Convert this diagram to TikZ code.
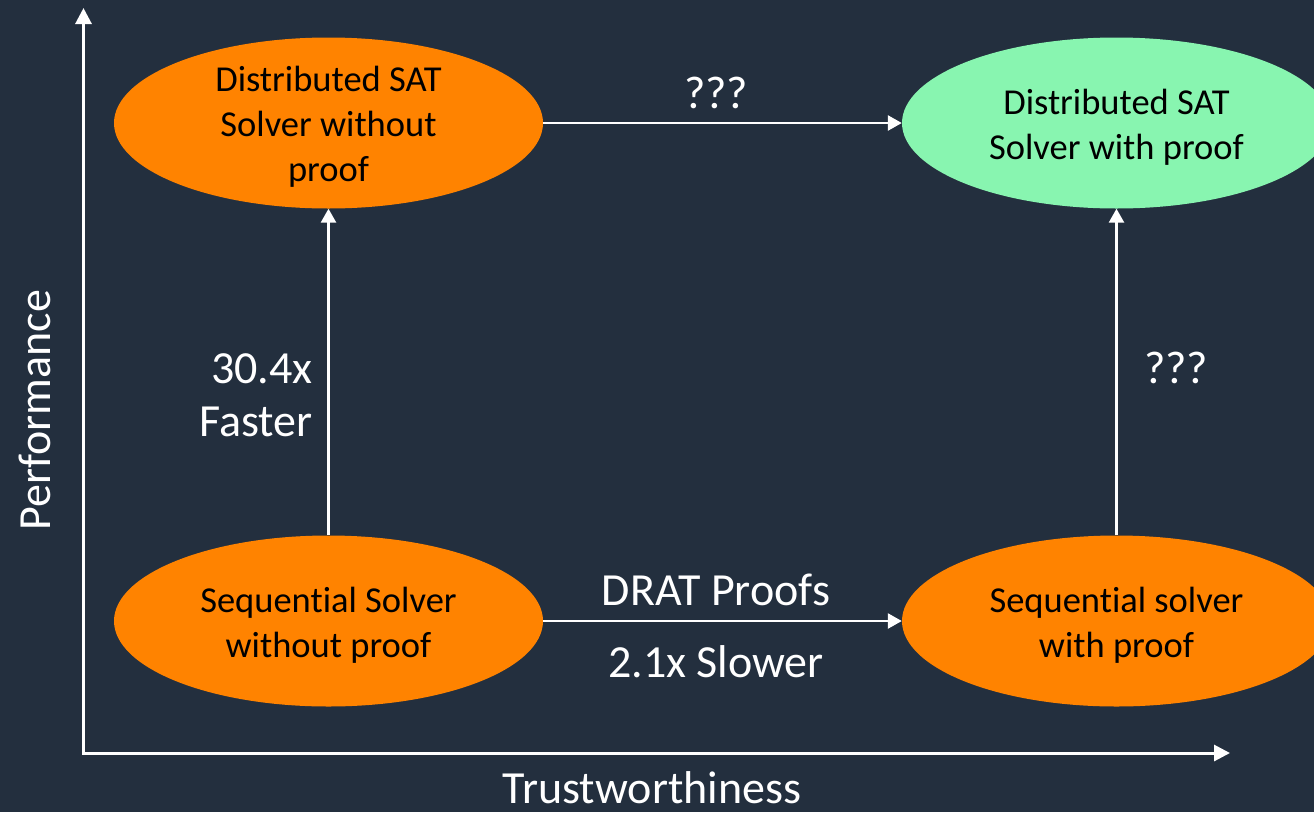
\documentclass[tikz,border=0pt]{standalone}
\usepackage{fontspec}
\setmainfont{Carlito}[RawFeature=-liga]
\usetikzlibrary{shapes.geometric,arrows.meta}
\definecolor{bgdark}{HTML}{232F3E}
\definecolor{solverorange}{HTML}{FF8300}
\definecolor{solvergreen}{HTML}{88F5B0}
\tikzset{
  solver/.style={ellipse, inner sep=0pt, minimum width=429pt, minimum height=171pt},
  solvertext/.style={align=center, text=black, inner sep=0pt, yshift=-4pt,
    font=\fontsize{36.5}{45}\selectfont},
  lbl/.style={text=white, inner sep=0pt, font=\fontsize{46}{53}\selectfont},
  flow/.style={draw=white, line width=2.6pt, -{Triangle[width=15pt,length=14pt]}},
  axis/.style={draw=white, line width=3pt, -{Triangle[width=16pt,length=16pt]}}
}
\begin{document}
\begin{tikzpicture}[x=1pt,y=-1pt]
  \useasboundingbox (0,0) rectangle (1314,812);
  \fill[bgdark] (0,0) rectangle (1314,812);
  \clip (0,0) rectangle (1314,812);

  % axes
  \coordinate (origin) at (83.5,753);
  \coordinate (ytop) at (83.5,8);
  \coordinate (xend) at (1230,753);
  \draw[axis] (origin) -- (ytop);
  \draw[axis] ([xshift=-1.5pt]origin) -- (xend);
  \node[lbl, rotate=90] (perf) at (35,410) {Performance};
  \node[lbl] (trust) at (652,788) {Trustworthiness};

  % solver configurations
  \node[solver, fill=solverorange, label={[solvertext]center:Distributed SAT\\Solver without\\proof}] (dist) at (328.5,123) {};
  \node[solver, fill=solvergreen, label={[solvertext]center:Distributed SAT\\Solver with proof}] (distp) at (1116.5,123) {};
  \node[solver, fill=solverorange, label={[solvertext]center:Sequential Solver\\without proof}] (seq) at (328.5,621) {};
  \node[solver, fill=solverorange, label={[solvertext]center:Sequential solver\\with proof}] (seqp) at (1116.5,621) {};

  % transitions
  \draw[flow] (dist.east) -- (distp.west);
  \draw[flow] (seq.east) -- (seqp.west);
  \draw[flow] (seq.north) -- (dist.south);
  \draw[flow] (seqp.north) -- (distp.south);

  % transition labels
  \node[lbl] (q1) at (716,93) {???};
  \node[lbl] (drat) at (716,590) {DRAT Proofs};
  \node[lbl] (slow) at (716,662) {2.1x Slower};
  \node[lbl, anchor=east, align=right] (fast) at (313,395) {30.4x\\Faster};
  \node[lbl] (q2) at (1176,368) {???};
\end{tikzpicture}
\end{document}
